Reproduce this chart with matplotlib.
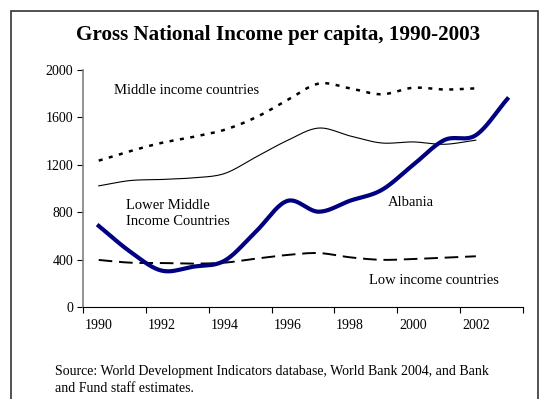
import matplotlib
matplotlib.use("Agg")
from matplotlib import pyplot as plt
from matplotlib.patches import Rectangle
import numpy as np

plt.rcParams["font.family"] = ["Liberation Serif", "DejaVu Serif"]

years = list(range(1990, 2004))
tick_years = [1990, 1992, 1994, 1996, 1998, 2000, 2002]

# GNI per capita, US$
middle_income = [1235, 1315, 1385, 1435, 1495, 1600, 1745, 1885, 1845, 1795, 1850, 1835, 1845]
lower_middle = [1022, 1067, 1076, 1090, 1126, 1265, 1405, 1510, 1443, 1384, 1393, 1373, 1408]
low_income = [397, 374, 371, 366, 374, 408, 439, 455, 419, 398, 405, 416, 428]
albania = [684, 467, 307, 340, 390, 636, 895, 804, 897, 987, 1198, 1409, 1450, 1755]


def smooth(y, n=20):
    # Catmull-Rom curve through the points, like a spreadsheet "smoothed line"
    y = np.asarray(y, dtype=float)
    x = np.arange(len(y)) + 0.5
    px = np.concatenate([[2 * x[0] - x[1]], x, [2 * x[-1] - x[-2]]])
    py = np.concatenate([[2 * y[0] - y[1]], y, [2 * y[-1] - y[-2]]])
    xs, ys = [], []
    t = np.linspace(0, 1, n, endpoint=False)
    for i in range(1, len(px) - 2):
        for p, out in ((px, xs), (py, ys)):
            p0, p1, p2, p3 = p[i - 1], p[i], p[i + 1], p[i + 2]
            out.extend(0.5 * (2 * p1 + (-p0 + p2) * t
                              + (2 * p0 - 5 * p1 + 4 * p2 - p3) * t ** 2
                              + (-p0 + 3 * p1 - 3 * p2 + p3) * t ** 3))
    xs.append(x[-1])
    ys.append(y[-1])
    return np.array(xs), np.array(ys)


fig = plt.figure(figsize=(5.44, 3.99), dpi=100)
ax = fig.add_axes([0.1526, 0.2306, 0.8088, 0.594])

ax.plot(*smooth(middle_income), color="black", lw=1.8, linestyle=(0, (1.6, 2.6)))
ax.plot(*smooth(lower_middle), color="black", lw=0.8)
ax.plot(*smooth(low_income), color="black", lw=1.4, linestyle=(0, (7, 3.5)))
ax.plot(*smooth(albania), color="#000080", lw=3)

ax.set_xlim(0, 14)
ax.set_ylim(0, 2000)
ax.set_yticks(range(0, 2001, 400))
ax.set_xticks(range(0, 15, 2))
ax.set_xticklabels([])
ax.set_xticks([years.index(y) + 0.5 for y in tick_years], minor=True)
ax.set_xticklabels([str(y) for y in tick_years], minor=True)
ax.tick_params(axis="x", which="minor", length=0, pad=9, labelsize=10)
ax.tick_params(axis="x", which="major", direction="out", length=4, width=0.8)
ax.tick_params(axis="y", direction="out", length=4, width=0.8, labelsize=10, pad=3)

for s in ("top", "right"):
    ax.spines[s].set_visible(False)
ax.spines["left"].set_color("#808080")
ax.spines["left"].set_linewidth(1.2)
ax.spines["bottom"].set_linewidth(0.8)

ax.text(1.0, 1831, "Middle income countries", fontsize=10.5, va="center")
ax.text(1.37, 670, "Lower Middle\nIncome Countries", fontsize=10.5, linespacing=1.3, va="bottom")
ax.text(9.7, 880, "Albania", fontsize=10.5, va="center")
ax.text(9.1, 220, "Low income countries", fontsize=10.5, va="center")

fig.text(0.511, 0.912, "Gross National Income per capita, 1990-2003",
         ha="center", va="center", fontsize=15.2, fontweight="bold")
fig.text(0.101, 0.0476, "Source: World Development Indicators database, World Bank 2004, and Bank\n"
         "and Fund staff estimates.", fontsize=10, linespacing=1.45, va="center")

fig.patches.append(Rectangle((11 / 544, -0.05), 527 / 544, 1.05 - 11 / 399,
                             transform=fig.transFigure, fill=False,
                             edgecolor="#333333", lw=1.2))

fig.savefig("out.png", dpi=100)
